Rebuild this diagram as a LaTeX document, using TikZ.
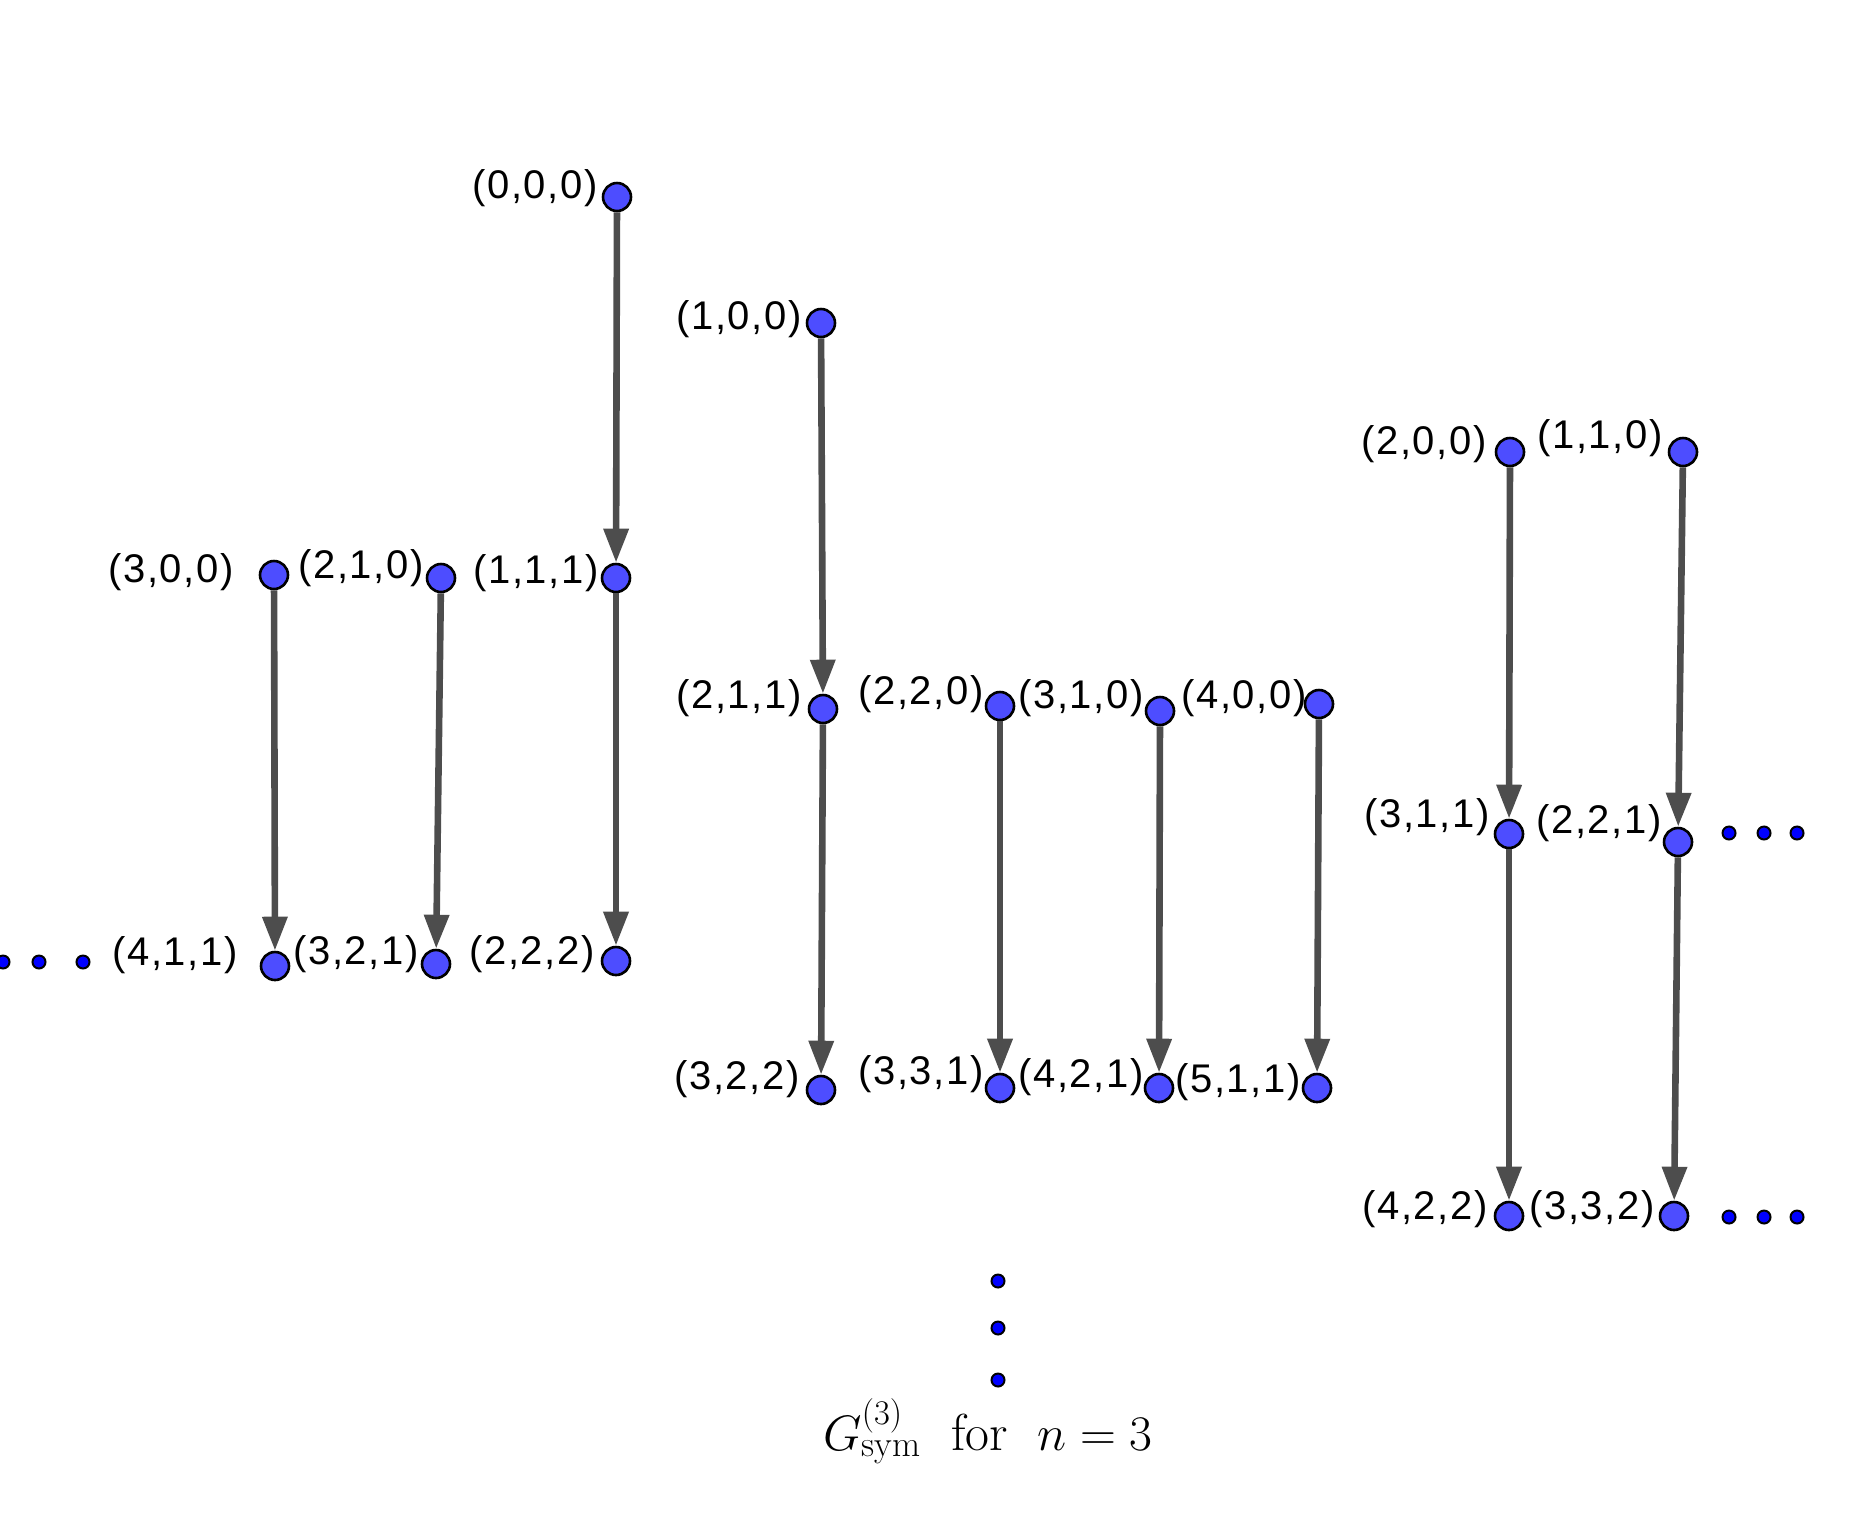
\documentclass[tikz,border=0pt]{standalone}
\usepackage{fontspec}
\usepackage{amsmath}
\usetikzlibrary{arrows.meta}
\newfontfamily\labfont[LetterSpace=4]{Liberation Sans}
\definecolor{vfill}{HTML}{4D4DFF}
\definecolor{edgegray}{HTML}{4D4D4D}
\tikzset{
  vtx/.style={circle,draw=black,line width=1.3pt,fill=vfill,minimum size=14pt,inner sep=0pt},
  dotv/.style={circle,draw=black,line width=1pt,fill=blue,minimum size=6.5pt,inner sep=0pt},
  lab/.style={anchor=east,inner sep=0pt,font=\labfont\fontsize{20pt}{23pt}\selectfont},
  edge/.style={draw=edgegray,line width=3.3pt,-{Triangle[length=17pt,width=12pt]}}
}
\begin{document}
\begin{tikzpicture}[x=0.5pt,y=-0.5pt]
\useasboundingbox (0,0) rectangle (1855,1516);
% vertices
\node[vtx] (a000) at (617,197) {};
\node[vtx] (a111) at (616,578) {};
\node[vtx] (a222) at (616,961) {};
\node[vtx] (a300) at (274,575) {};
\node[vtx] (a411) at (275,966) {};
\node[vtx] (a210) at (441,578) {};
\node[vtx] (a321) at (436,964) {};
\node[vtx] (a100) at (821,323) {};
\node[vtx] (a211) at (823,709) {};
\node[vtx] (a322) at (821,1090) {};
\node[vtx] (a220) at (1000,706) {};
\node[vtx] (a331) at (1000,1088) {};
\node[vtx] (a310) at (1160,711) {};
\node[vtx] (a421) at (1159,1088) {};
\node[vtx] (a400) at (1319,704) {};
\node[vtx] (a511) at (1317,1088) {};
\node[vtx] (a200) at (1510,452) {};
\node[vtx] (a110) at (1683,452) {};
\node[vtx] (a311) at (1509,834) {};
\node[vtx] (a221) at (1678,842) {};
\node[vtx] (a422) at (1509,1216) {};
\node[vtx] (a332) at (1674,1216) {};
% labels
\node[lab] (l000) at (598,188) {(0,0,0)};
\node[lab] (l100) at (802,319) {(1,0,0)};
\node[lab] (l300) at (234,572) {(3,0,0)};
\node[lab] (l210) at (424,568) {(2,1,0)};
\node[lab] (l111) at (599,573) {(1,1,1)};
\node[lab] (l411) at (238,955) {(4,1,1)};
\node[lab] (l321) at (419,954) {(3,2,1)};
\node[lab] (l222) at (595,954) {(2,2,2)};
\node[lab] (l211) at (802,698) {(2,1,1)};
\node[lab] (l220) at (984,694) {(2,2,0)};
\node[lab] (l310) at (1144,698) {(3,1,0)};
\node[lab] (l400) at (1307,698) {(4,0,0)};
\node[lab] (l322) at (800,1079) {(3,2,2)};
\node[lab] (l331) at (984,1074) {(3,3,1)};
\node[lab] (l421) at (1144,1077) {(4,2,1)};
\node[lab] (l511) at (1301,1082) {(5,1,1)};
\node[lab] (l200) at (1487,444) {(2,0,0)};
\node[lab] (l110) at (1663,438) {(1,1,0)};
\node[lab] (l311) at (1490,817) {(3,1,1)};
\node[lab] (l221) at (1662,823) {(2,2,1)};
\node[lab] (l422) at (1488,1209) {(4,2,2)};
\node[lab] (l332) at (1655,1209) {(3,3,2)};
% small dots
\node[dotv] (d1) at (3,962) {};
\node[dotv] (d2) at (39,962) {};
\node[dotv] (d3) at (83,962) {};
\node[dotv] (d4) at (1729,833) {};
\node[dotv] (d5) at (1764,833) {};
\node[dotv] (d6) at (1797,833) {};
\node[dotv] (d7) at (1729,1217) {};
\node[dotv] (d8) at (1764,1217) {};
\node[dotv] (d9) at (1797,1217) {};
\node[dotv] (d10) at (998,1281) {};
\node[dotv] (d11) at (998,1328) {};
\node[dotv] (d12) at (998,1380) {};
% edges
\draw[edge] (a000) -- (a111);
\draw[edge] (a111) -- (a222);
\draw[edge] (a300) -- (a411);
\draw[edge] (a210) -- (a321);
\draw[edge] (a100) -- (a211);
\draw[edge] (a211) -- (a322);
\draw[edge] (a220) -- (a331);
\draw[edge] (a310) -- (a421);
\draw[edge] (a400) -- (a511);
\draw[edge] (a200) -- (a311);
\draw[edge] (a311) -- (a422);
\draw[edge] (a110) -- (a221);
\draw[edge] (a221) -- (a332);
% caption
\node[anchor=base,inner sep=0pt,font=\fontsize{26pt}{30pt}\selectfont] (cap) at (988,1450) {$G^{(3)}_{\mathrm{sym}}\;\ \text{for}\;\ n=3$};
\end{tikzpicture}
\end{document}
